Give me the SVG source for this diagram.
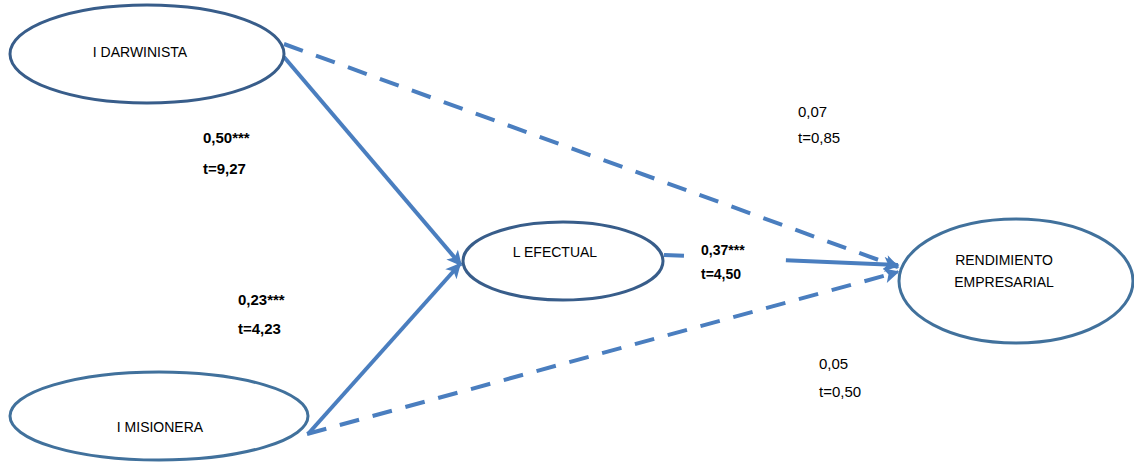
<svg xmlns="http://www.w3.org/2000/svg" width="1134" height="463" viewBox="0 0 1134 463">
<style>
.node{fill:#ffffff;stroke-width:3}
.dark{stroke:#385D8A}
.mid{stroke:#41719C}
.lbl{font-family:"Liberation Sans",Arial,sans-serif;font-size:14px;fill:#000}
.val{font-size:15px}
.b{font-weight:bold}
.con{stroke:#4A7EBF;stroke-width:4;fill:none}
.dash{stroke-dasharray:20 14}
</style>
<defs>
<marker id="arr" viewBox="0 0 10 10" refX="9" refY="5" markerWidth="4.5" markerHeight="3.8" orient="auto" markerUnits="strokeWidth">
<path d="M0,0 L10,5 L0,10 L2.5,5 Z" fill="#4A7EBF"/>
</marker>
</defs>
<g id="connectors">
<line class="con" x1="284" y1="57" x2="461" y2="265" marker-end="url(#arr)"/>
<line class="con" x1="308" y1="434" x2="460" y2="264" marker-end="url(#arr)"/>
<line class="con dash" x1="284" y1="44" x2="898" y2="267" marker-end="url(#arr)"/>
<line class="con dash" x1="307" y1="434" x2="898" y2="272" marker-end="url(#arr)"/>
<line class="con" style="stroke-dasharray:20 102 300" x1="664" y1="255" x2="898" y2="265" marker-end="url(#arr)"/>
</g>
<g id="n-darwinista">
<ellipse class="node dark" cx="147" cy="54" rx="137" ry="49"/>
<text class="lbl" x="140" y="57" text-anchor="middle">I DARWINISTA</text>
</g>
<g id="n-efectual">
<ellipse class="node dark" cx="563" cy="261" rx="100" ry="39"/>
<text class="lbl" x="555" y="257" text-anchor="middle">L EFECTUAL</text>
</g>
<g id="n-rendimiento">
<ellipse class="node mid" cx="1016" cy="281" rx="117" ry="62"/>
<text class="lbl" x="1004" y="265" text-anchor="middle">RENDIMIENTO</text>
<text class="lbl" x="1004" y="287" text-anchor="middle">EMPRESARIAL</text>
</g>
<g id="n-misionera">
<ellipse class="node mid" cx="159" cy="416" rx="149" ry="44"/>
<text class="lbl" x="160" y="432" text-anchor="middle">I MISIONERA</text>
</g>
<g id="labels">
<text class="lbl val b" x="203" y="143">0,50***</text>
<text class="lbl val b" x="203" y="174">t=9,27</text>
<text class="lbl val b" x="238" y="305">0,23***</text>
<text class="lbl val b" x="238" y="334">t=4,23</text>
<text class="lbl b" x="701" y="255">0,37***</text>
<text class="lbl b" x="701" y="279">t=4,50</text>
<text class="lbl val" x="798" y="117">0,07</text>
<text class="lbl val" x="798" y="143">t=0,85</text>
<text class="lbl val" x="819" y="369">0,05</text>
<text class="lbl val" x="819" y="397">t=0,50</text>
</g>
</svg>
